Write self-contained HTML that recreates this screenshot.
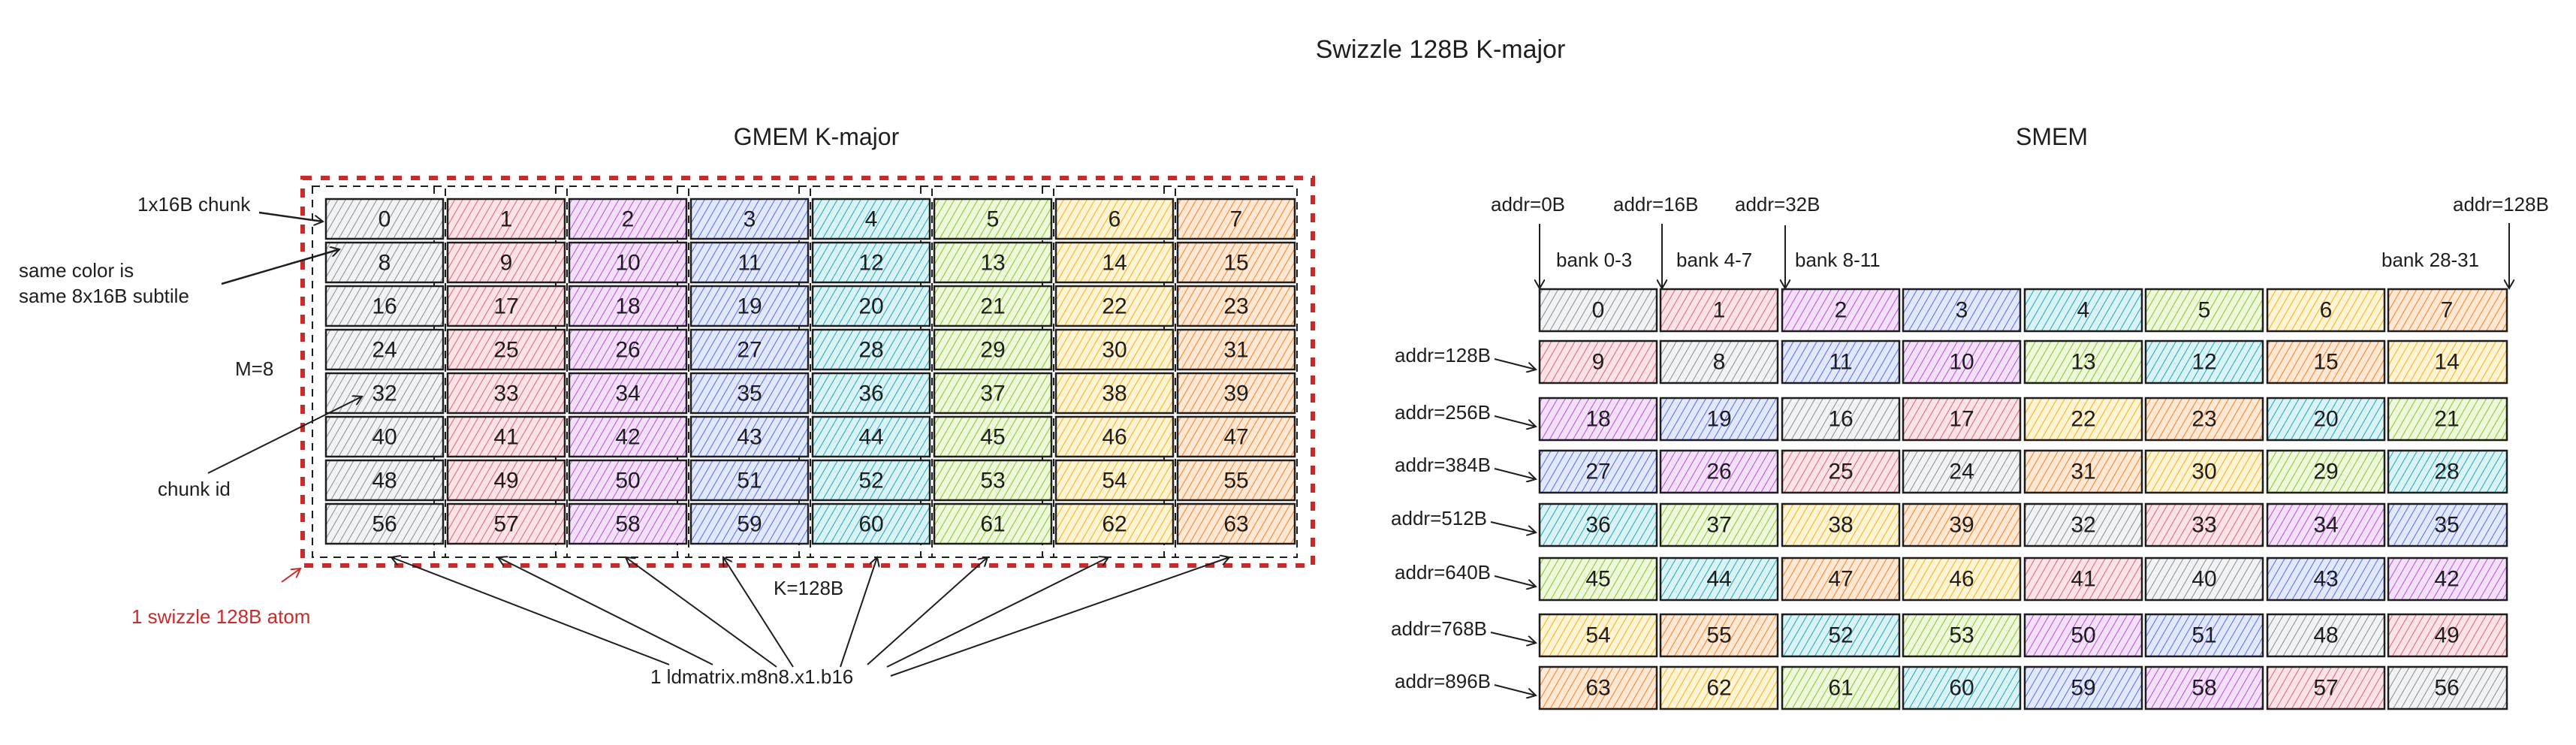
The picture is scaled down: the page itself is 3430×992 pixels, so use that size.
<!DOCTYPE html>
<html><head><meta charset="utf-8"><style>
html,body{margin:0;padding:0;background:#fff;}
svg{display:block;}
text{font-family:"Liberation Sans",sans-serif;fill:#1e1e1e;}
.n{font-size:30px;text-anchor:middle;dominant-baseline:central;}
.l{font-size:26px;}
.c{stroke:#1e1e1e;stroke-width:2.5;}
</style></head><body>
<svg width="3430" height="992" viewBox="0 0 3430 992" xmlns="http://www.w3.org/2000/svg">
<defs>
<pattern id="p0" width="9" height="9" patternUnits="userSpaceOnUse" patternTransform="rotate(30)"><rect width="9" height="9" fill="#f1f3f5"/><line x1="0" y1="0" x2="0" y2="9" stroke="#868e96" stroke-width="2"/></pattern>
<pattern id="p1" width="9" height="9" patternUnits="userSpaceOnUse" patternTransform="rotate(30)"><rect width="9" height="9" fill="#fbe3e6"/><line x1="0" y1="0" x2="0" y2="9" stroke="#e0607a" stroke-width="2"/></pattern>
<pattern id="p2" width="9" height="9" patternUnits="userSpaceOnUse" patternTransform="rotate(30)"><rect width="9" height="9" fill="#f3e1fb"/><line x1="0" y1="0" x2="0" y2="9" stroke="#be4bdb" stroke-width="2"/></pattern>
<pattern id="p3" width="9" height="9" patternUnits="userSpaceOnUse" patternTransform="rotate(30)"><rect width="9" height="9" fill="#e3e8fd"/><line x1="0" y1="0" x2="0" y2="9" stroke="#4c6ef5" stroke-width="2"/></pattern>
<pattern id="p4" width="9" height="9" patternUnits="userSpaceOnUse" patternTransform="rotate(30)"><rect width="9" height="9" fill="#dcf3f6"/><line x1="0" y1="0" x2="0" y2="9" stroke="#15aabf" stroke-width="2"/></pattern>
<pattern id="p5" width="9" height="9" patternUnits="userSpaceOnUse" patternTransform="rotate(30)"><rect width="9" height="9" fill="#eef8dc"/><line x1="0" y1="0" x2="0" y2="9" stroke="#82c91e" stroke-width="2"/></pattern>
<pattern id="p6" width="9" height="9" patternUnits="userSpaceOnUse" patternTransform="rotate(30)"><rect width="9" height="9" fill="#fff4d6"/><line x1="0" y1="0" x2="0" y2="9" stroke="#fab005" stroke-width="2"/></pattern>
<pattern id="p7" width="9" height="9" patternUnits="userSpaceOnUse" patternTransform="rotate(30)"><rect width="9" height="9" fill="#ffe8d6"/><line x1="0" y1="0" x2="0" y2="9" stroke="#fd7e14" stroke-width="2"/></pattern>
<marker id="ah" markerWidth="14" markerHeight="14" refX="12" refY="7" orient="auto" markerUnits="userSpaceOnUse"><path d="M0,0 L12,7 L0,14" fill="none" stroke="#1e1e1e" stroke-width="2"/></marker>
<marker id="ahr" markerWidth="14" markerHeight="14" refX="12" refY="7" orient="auto" markerUnits="userSpaceOnUse"><path d="M0,0 L12,7 L0,14" fill="none" stroke="#c92a2a" stroke-width="2"/></marker>
</defs>

<text x="1918" y="66" style="font-size:34px;text-anchor:middle;dominant-baseline:central">Swizzle 128B K-major</text>
<text x="1087" y="182" style="font-size:32px;text-anchor:middle;dominant-baseline:central">GMEM K-major</text>
<text x="2732" y="182" style="font-size:32px;text-anchor:middle;dominant-baseline:central">SMEM</text>

<!-- GMEM red atom -->
<rect x="403" y="237" width="1345" height="516" fill="none" stroke="#c92a2a" stroke-width="6" stroke-dasharray="12,12"/>
<!-- column dashed boxes -->
<g fill="none" stroke="#1e1e1e" stroke-width="2" stroke-dasharray="10,8">
<rect x="416" y="248" width="177" height="494"/>
<rect x="578" y="248" width="177" height="494"/>
<rect x="740" y="248" width="177" height="494"/>
<rect x="902" y="248" width="177" height="494"/>
<rect x="1064" y="248" width="177" height="494"/>
<rect x="1226" y="248" width="177" height="494"/>
<rect x="1388" y="248" width="177" height="494"/>
<rect x="1550" y="248" width="177" height="494"/>
</g>

<!-- GMEM cells -->
<g class="c">
<g id="gr0">
<rect x="434" y="265" width="156" height="53" fill="url(#p0)"/><rect x="596" y="265" width="156" height="53" fill="url(#p1)"/><rect x="758" y="265" width="156" height="53" fill="url(#p2)"/><rect x="920" y="265" width="156" height="53" fill="url(#p3)"/><rect x="1082" y="265" width="156" height="53" fill="url(#p4)"/><rect x="1244" y="265" width="156" height="53" fill="url(#p5)"/><rect x="1406" y="265" width="156" height="53" fill="url(#p6)"/><rect x="1568" y="265" width="156" height="53" fill="url(#p7)"/>
</g>
<use href="#gr0" y="58"/><use href="#gr0" y="116"/><use href="#gr0" y="174"/><use href="#gr0" y="232"/><use href="#gr0" y="290"/><use href="#gr0" y="348"/><use href="#gr0" y="406"/>
</g>
<g class="n">
<text class="n" x="512" y="292">0</text><text class="n" x="674" y="292">1</text><text class="n" x="836" y="292">2</text><text class="n" x="998" y="292">3</text><text class="n" x="1160" y="292">4</text><text class="n" x="1322" y="292">5</text><text class="n" x="1484" y="292">6</text><text class="n" x="1646" y="292">7</text>
<text class="n" x="512" y="350">8</text><text class="n" x="674" y="350">9</text><text class="n" x="836" y="350">10</text><text class="n" x="998" y="350">11</text><text class="n" x="1160" y="350">12</text><text class="n" x="1322" y="350">13</text><text class="n" x="1484" y="350">14</text><text class="n" x="1646" y="350">15</text>
<text class="n" x="512" y="408">16</text><text class="n" x="674" y="408">17</text><text class="n" x="836" y="408">18</text><text class="n" x="998" y="408">19</text><text class="n" x="1160" y="408">20</text><text class="n" x="1322" y="408">21</text><text class="n" x="1484" y="408">22</text><text class="n" x="1646" y="408">23</text>
<text class="n" x="512" y="466">24</text><text class="n" x="674" y="466">25</text><text class="n" x="836" y="466">26</text><text class="n" x="998" y="466">27</text><text class="n" x="1160" y="466">28</text><text class="n" x="1322" y="466">29</text><text class="n" x="1484" y="466">30</text><text class="n" x="1646" y="466">31</text>
<text class="n" x="512" y="524">32</text><text class="n" x="674" y="524">33</text><text class="n" x="836" y="524">34</text><text class="n" x="998" y="524">35</text><text class="n" x="1160" y="524">36</text><text class="n" x="1322" y="524">37</text><text class="n" x="1484" y="524">38</text><text class="n" x="1646" y="524">39</text>
<text class="n" x="512" y="582">40</text><text class="n" x="674" y="582">41</text><text class="n" x="836" y="582">42</text><text class="n" x="998" y="582">43</text><text class="n" x="1160" y="582">44</text><text class="n" x="1322" y="582">45</text><text class="n" x="1484" y="582">46</text><text class="n" x="1646" y="582">47</text>
<text class="n" x="512" y="640">48</text><text class="n" x="674" y="640">49</text><text class="n" x="836" y="640">50</text><text class="n" x="998" y="640">51</text><text class="n" x="1160" y="640">52</text><text class="n" x="1322" y="640">53</text><text class="n" x="1484" y="640">54</text><text class="n" x="1646" y="640">55</text>
<text class="n" x="512" y="698">56</text><text class="n" x="674" y="698">57</text><text class="n" x="836" y="698">58</text><text class="n" x="998" y="698">59</text><text class="n" x="1160" y="698">60</text><text class="n" x="1322" y="698">61</text><text class="n" x="1484" y="698">62</text><text class="n" x="1646" y="698">63</text>
</g>

<!-- left annotations -->
<text class="l" x="183" y="281">1x16B chunk</text>
<line x1="345" y1="283" x2="430" y2="295" stroke="#1e1e1e" stroke-width="2.5" marker-end="url(#ah)"/>
<text class="l" x="25" y="369">same color is</text>
<text class="l" x="25" y="403">same 8x16B subtile</text>
<line x1="295" y1="378" x2="452" y2="332" stroke="#1e1e1e" stroke-width="2.5" marker-end="url(#ah)"/>
<text class="l" x="313" y="500">M=8</text>
<line x1="277" y1="630" x2="482" y2="528" stroke="#1e1e1e" stroke-width="2" marker-end="url(#ah)"/>
<text class="l" x="210" y="660">chunk id</text>
<text class="l" x="175" y="830" style="fill:#c92a2a">1 swizzle 128B atom</text>
<line x1="375" y1="775" x2="400" y2="757" stroke="#c92a2a" stroke-width="2" marker-end="url(#ahr)"/>
<text class="l" x="1030" y="792">K=128B</text>
<text class="l" x="866" y="910">1 ldmatrix.m8n8.x1.b16</text>
<g stroke="#1e1e1e" stroke-width="2" marker-end="url(#ah)">
<line x1="891" y1="885" x2="521" y2="742"/>
<line x1="949" y1="885" x2="663" y2="742"/>
<line x1="1034" y1="888" x2="833" y2="742"/>
<line x1="1056" y1="888" x2="963" y2="742"/>
<line x1="1119" y1="888" x2="1168" y2="742"/>
<line x1="1155" y1="885" x2="1315" y2="742"/>
<line x1="1181" y1="888" x2="1476" y2="742"/>
<line x1="1186" y1="900" x2="1637" y2="742"/>
</g>

<!-- SMEM top labels -->
<text class="l" x="1985" y="281">addr=0B</text>
<text class="l" x="2148" y="281">addr=16B</text>
<text class="l" x="2310" y="281">addr=32B</text>
<text class="l" x="3266" y="281">addr=128B</text>
<g stroke="#1e1e1e" stroke-width="2" marker-end="url(#ah)">
<line x1="2050" y1="298" x2="2050" y2="384"/>
<line x1="2213" y1="298" x2="2213" y2="384"/>
<line x1="2377" y1="300" x2="2377" y2="384"/>
<line x1="3341" y1="297" x2="3341" y2="384"/>
</g>
<text class="l" x="2072" y="355">bank 0-3</text>
<text class="l" x="2232" y="355">bank 4-7</text>
<text class="l" x="2390" y="355">bank 8-11</text>
<text class="l" x="3171" y="355">bank 28-31</text>

<!-- SMEM row labels -->
<g class="l" style="text-anchor:end">
<text class="l" x="1985" y="482" text-anchor="end">addr=128B</text>
<text class="l" x="1985" y="558" text-anchor="end">addr=256B</text>
<text class="l" x="1985" y="628" text-anchor="end">addr=384B</text>
<text class="l" x="1980" y="699" text-anchor="end">addr=512B</text>
<text class="l" x="1985" y="771" text-anchor="end">addr=640B</text>
<text class="l" x="1980" y="846" text-anchor="end">addr=768B</text>
<text class="l" x="1985" y="916" text-anchor="end">addr=896B</text>
</g>
<g stroke="#1e1e1e" stroke-width="2" marker-end="url(#ah)">
<line x1="1990" y1="478" x2="2045" y2="492"/>
<line x1="1990" y1="554" x2="2045" y2="568"/>
<line x1="1990" y1="624" x2="2045" y2="638"/>
<line x1="1985" y1="695" x2="2045" y2="709"/>
<line x1="1990" y1="767" x2="2045" y2="781"/>
<line x1="1985" y1="842" x2="2045" y2="856"/>
<line x1="1990" y1="912" x2="2045" y2="926"/>
</g>

<!-- SMEM cells -->
<g class="c">
<rect x="2050" y="385" width="156" height="56" fill="url(#p0)"/><rect x="2211" y="385" width="156" height="56" fill="url(#p1)"/><rect x="2373" y="385" width="156" height="56" fill="url(#p2)"/><rect x="2534" y="385" width="156" height="56" fill="url(#p3)"/><rect x="2696" y="385" width="156" height="56" fill="url(#p4)"/><rect x="2857" y="385" width="156" height="56" fill="url(#p5)"/><rect x="3019" y="385" width="156" height="56" fill="url(#p6)"/><rect x="3180" y="385" width="158" height="56" fill="url(#p7)"/>
<rect x="2050" y="454" width="156" height="56" fill="url(#p1)"/><rect x="2211" y="454" width="156" height="56" fill="url(#p0)"/><rect x="2373" y="454" width="156" height="56" fill="url(#p3)"/><rect x="2534" y="454" width="156" height="56" fill="url(#p2)"/><rect x="2696" y="454" width="156" height="56" fill="url(#p5)"/><rect x="2857" y="454" width="156" height="56" fill="url(#p4)"/><rect x="3019" y="454" width="156" height="56" fill="url(#p7)"/><rect x="3180" y="454" width="158" height="56" fill="url(#p6)"/>
<rect x="2050" y="530" width="156" height="56" fill="url(#p2)"/><rect x="2211" y="530" width="156" height="56" fill="url(#p3)"/><rect x="2373" y="530" width="156" height="56" fill="url(#p0)"/><rect x="2534" y="530" width="156" height="56" fill="url(#p1)"/><rect x="2696" y="530" width="156" height="56" fill="url(#p6)"/><rect x="2857" y="530" width="156" height="56" fill="url(#p7)"/><rect x="3019" y="530" width="156" height="56" fill="url(#p4)"/><rect x="3180" y="530" width="158" height="56" fill="url(#p5)"/>
<rect x="2050" y="600" width="156" height="56" fill="url(#p3)"/><rect x="2211" y="600" width="156" height="56" fill="url(#p2)"/><rect x="2373" y="600" width="156" height="56" fill="url(#p1)"/><rect x="2534" y="600" width="156" height="56" fill="url(#p0)"/><rect x="2696" y="600" width="156" height="56" fill="url(#p7)"/><rect x="2857" y="600" width="156" height="56" fill="url(#p6)"/><rect x="3019" y="600" width="156" height="56" fill="url(#p5)"/><rect x="3180" y="600" width="158" height="56" fill="url(#p4)"/>
<rect x="2050" y="671" width="156" height="56" fill="url(#p4)"/><rect x="2211" y="671" width="156" height="56" fill="url(#p5)"/><rect x="2373" y="671" width="156" height="56" fill="url(#p6)"/><rect x="2534" y="671" width="156" height="56" fill="url(#p7)"/><rect x="2696" y="671" width="156" height="56" fill="url(#p0)"/><rect x="2857" y="671" width="156" height="56" fill="url(#p1)"/><rect x="3019" y="671" width="156" height="56" fill="url(#p2)"/><rect x="3180" y="671" width="158" height="56" fill="url(#p3)"/>
<rect x="2050" y="743" width="156" height="56" fill="url(#p5)"/><rect x="2211" y="743" width="156" height="56" fill="url(#p4)"/><rect x="2373" y="743" width="156" height="56" fill="url(#p7)"/><rect x="2534" y="743" width="156" height="56" fill="url(#p6)"/><rect x="2696" y="743" width="156" height="56" fill="url(#p1)"/><rect x="2857" y="743" width="156" height="56" fill="url(#p0)"/><rect x="3019" y="743" width="156" height="56" fill="url(#p3)"/><rect x="3180" y="743" width="158" height="56" fill="url(#p2)"/>
<rect x="2050" y="818" width="156" height="56" fill="url(#p6)"/><rect x="2211" y="818" width="156" height="56" fill="url(#p7)"/><rect x="2373" y="818" width="156" height="56" fill="url(#p4)"/><rect x="2534" y="818" width="156" height="56" fill="url(#p5)"/><rect x="2696" y="818" width="156" height="56" fill="url(#p2)"/><rect x="2857" y="818" width="156" height="56" fill="url(#p3)"/><rect x="3019" y="818" width="156" height="56" fill="url(#p0)"/><rect x="3180" y="818" width="158" height="56" fill="url(#p1)"/>
<rect x="2050" y="888" width="156" height="56" fill="url(#p7)"/><rect x="2211" y="888" width="156" height="56" fill="url(#p6)"/><rect x="2373" y="888" width="156" height="56" fill="url(#p5)"/><rect x="2534" y="888" width="156" height="56" fill="url(#p4)"/><rect x="2696" y="888" width="156" height="56" fill="url(#p3)"/><rect x="2857" y="888" width="156" height="56" fill="url(#p2)"/><rect x="3019" y="888" width="156" height="56" fill="url(#p1)"/><rect x="3180" y="888" width="158" height="56" fill="url(#p0)"/>
</g>
<g>
<text class="n" x="2128" y="413">0</text><text class="n" x="2289" y="413">1</text><text class="n" x="2451" y="413">2</text><text class="n" x="2612" y="413">3</text><text class="n" x="2774" y="413">4</text><text class="n" x="2935" y="413">5</text><text class="n" x="3097" y="413">6</text><text class="n" x="3258" y="413">7</text>
<text class="n" x="2128" y="482">9</text><text class="n" x="2289" y="482">8</text><text class="n" x="2451" y="482">11</text><text class="n" x="2612" y="482">10</text><text class="n" x="2774" y="482">13</text><text class="n" x="2935" y="482">12</text><text class="n" x="3097" y="482">15</text><text class="n" x="3258" y="482">14</text>
<text class="n" x="2128" y="558">18</text><text class="n" x="2289" y="558">19</text><text class="n" x="2451" y="558">16</text><text class="n" x="2612" y="558">17</text><text class="n" x="2774" y="558">22</text><text class="n" x="2935" y="558">23</text><text class="n" x="3097" y="558">20</text><text class="n" x="3258" y="558">21</text>
<text class="n" x="2128" y="628">27</text><text class="n" x="2289" y="628">26</text><text class="n" x="2451" y="628">25</text><text class="n" x="2612" y="628">24</text><text class="n" x="2774" y="628">31</text><text class="n" x="2935" y="628">30</text><text class="n" x="3097" y="628">29</text><text class="n" x="3258" y="628">28</text>
<text class="n" x="2128" y="699">36</text><text class="n" x="2289" y="699">37</text><text class="n" x="2451" y="699">38</text><text class="n" x="2612" y="699">39</text><text class="n" x="2774" y="699">32</text><text class="n" x="2935" y="699">33</text><text class="n" x="3097" y="699">34</text><text class="n" x="3258" y="699">35</text>
<text class="n" x="2128" y="771">45</text><text class="n" x="2289" y="771">44</text><text class="n" x="2451" y="771">47</text><text class="n" x="2612" y="771">46</text><text class="n" x="2774" y="771">41</text><text class="n" x="2935" y="771">40</text><text class="n" x="3097" y="771">43</text><text class="n" x="3258" y="771">42</text>
<text class="n" x="2128" y="846">54</text><text class="n" x="2289" y="846">55</text><text class="n" x="2451" y="846">52</text><text class="n" x="2612" y="846">53</text><text class="n" x="2774" y="846">50</text><text class="n" x="2935" y="846">51</text><text class="n" x="3097" y="846">48</text><text class="n" x="3258" y="846">49</text>
<text class="n" x="2128" y="916">63</text><text class="n" x="2289" y="916">62</text><text class="n" x="2451" y="916">61</text><text class="n" x="2612" y="916">60</text><text class="n" x="2774" y="916">59</text><text class="n" x="2935" y="916">58</text><text class="n" x="3097" y="916">57</text><text class="n" x="3258" y="916">56</text>
</g>
</svg>
</body></html>
